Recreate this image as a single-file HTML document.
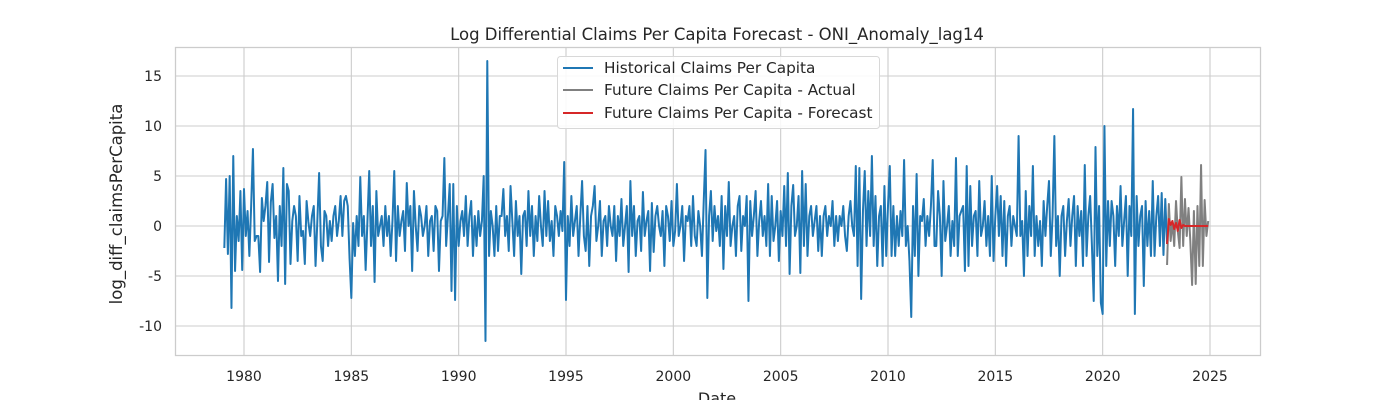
<!DOCTYPE html>
<html><head><meta charset="utf-8"><style>
body{margin:0;background:#fff;width:1400px;height:400px;overflow:hidden;font-family:"DejaVu Sans","Liberation Sans",sans-serif}
svg text{font-family:"DejaVu Sans","Liberation Sans",sans-serif;fill:#262626}
</style></head><body>
<svg id="chart" width="1400" height="400" xmlns="http://www.w3.org/2000/svg">
<text x="717" y="40" font-size="16.5" text-anchor="middle">Log Differential Claims Per Capita Forecast - ONI_Anomaly_lag14</text>
<g id="grid"></g>
<g id="ticks"></g>
<g id="series"></g>
<rect x="175.5" y="47.5" width="1085" height="308" fill="none" stroke="#cccccc" stroke-width="1.25"/>
<text x="717" y="404" font-size="16" text-anchor="middle">Date</text>
<text transform="translate(122,204) rotate(-90)" font-size="16.5" text-anchor="middle">log_diff_claimsPerCapita</text>
<g>
<rect x="557.5" y="56.5" width="322" height="72" rx="3" fill="#fff" fill-opacity="0.85" stroke="#d8d8d8"/>
<line x1="563" y1="68" x2="593" y2="68" stroke="#1f77b4" stroke-width="2"/>
<text x="604" y="73" font-size="15.3">Historical Claims Per Capita</text>
<line x1="563" y1="90" x2="593" y2="90" stroke="#808080" stroke-width="2"/>
<text x="604" y="95" font-size="15.3">Future Claims Per Capita - Actual</text>
<line x1="563" y1="113" x2="593" y2="113" stroke="#d62728" stroke-width="2"/>
<text x="604" y="118" font-size="15.3">Future Claims Per Capita - Forecast</text>
</g>
</svg>
<script>
const xTicks=[1980,1985,1990,1995,2000,2005,2010,2015,2020,2025];
const yTicks=[-10,-5,0,5,10,15];
const histStart=1979.083;
const futureStart=2023.0;
const historical=[
-2.2,4.7,-2.8,5,-8.2,7,-4.5,1,-1.5,3.5,-4.4,3.7,
-1,1.5,-3,2,7.7,-1.5,-1,-1,-4.6,2.8,0.5,2,
4.4,-3.6,2.4,4.2,-1.2,1,-5.5,2,-2,5.8,-5.8,4.2,
3.5,-3.8,0.5,2,1,-3.5,3,-1,-0.5,-3.8,2.5,0.4,
-1,1,2,-4,0.5,5.3,-2,-3.5,1.5,1,-2,0.5,
-1.5,1,2,-1,0.5,3,-1,2.5,3,2,-3.2,-7.2,
0.3,-3,1,-2,4.9,-1,1,-4.4,0.5,5.5,-2,2,
-5.6,3.5,-1,0,1,-2,2,-1,1,-3,0.5,5.5,
-3.5,2,-1,0.5,1.5,-2.5,4.3,0,2,-4.5,3.5,0,
-2.5,2,1,-1,0,2,-3,0.5,1,-2.5,2,1.5,
-4.5,0.5,1,6.8,-2,1,4.2,-6.5,4.2,-7.4,2,-2,
0.5,1.5,-1,3,-2,1,2.5,-3,1,-2,1.5,-1,
0.5,5,-11.5,16.5,-3,1.5,0,-3,2,-2.5,1,1,
3.7,-1,1,-2.5,4,0.5,-3,2.5,-1,1,-4.8,1,
1.5,-2,3.5,-1,2,-3,1,-1.5,3,0,-2,3.5,
-1,2.5,-1.5,0.5,-3,2,1,-1,1.5,-0.5,6.4,-7.4,
1,-2,3,-1,0.5,2,-3,1,4.5,-1,-2.5,2,
-4,1,2,4,-1.5,0,2.5,-3,0.5,1,-2,2,
0,-1,2,-3.5,1,-1,2.7,-2,0,2,-4.6,4.5,
-1,2,-3,0.5,1,-2.5,3.4,-1,0.5,1.5,-4.5,2.3,
-2.6,1,2,0,-1,1.5,-4,2,1,-1.5,2.5,-2,
-0.5,4.2,-1,0,2,-3.5,1,0.5,2,-2,3,-1,
-2,1.5,0,-3,2.5,7.6,-7.2,1,3.5,-1.5,2,-0.5,
1,-2,3,-4.3,2,-1,4.4,-2,0,1,-3,2,
3,-2.5,1,0,3,-7.5,2.5,-1,1,3.5,-3,0.5,
2.5,-1,1,-2,4.2,-3,3,-1.5,0,2.5,-3.5,1.5,
-1,4,-2,5.3,-4.8,2,4.1,-1,0,3,-4.7,5.5,
-2,4.2,-3,1,2,-1,0.5,2,-2.5,1,-3,1,
2,-1,1,0,2.5,-2,1,-1.5,1,0,2,-1,
-2.5,1,2.5,0,-1,6,-4,5.8,-7.3,1.5,5.5,-2,
3.5,-1,7,-2,3,-4,1,2,-4,4,-3,2,
6,-3,2,-3,1,-2,1.5,-1,6.6,-2,0,-3.5,
-9.1,2,-3,5.2,-5,1,0.5,2.7,-2,1,-1,2,
6.6,-2,-2,3.5,1,-5,4.5,-1.5,0,2,-3,0.5,
-2,6.8,-3,1,1.5,2,-4.5,6,-4,4,-2,1,
1.5,-3,4.5,-1,0,2.5,-2,1,-3,5,-3.5,1,
4,-1,3,-3,2.5,-4,1,2,-2,1,0,-1,
9,-1,0.5,-5,3.5,-3,2,-1,6,-3,1,-2,
0.5,-4,2.5,-1,2,4.5,-3,1,9,-2,1,-5,
1,2,-3,0.5,2.7,-2,1,3,-4,2,-1,1.5,
-4,6.1,-3,1,3,-2,-7.5,7.9,-3,2,-7.7,-8.8,
10,-4,2.5,-2,2.5,1,-4,2,-1,4,-2,0.5,
3,-5,2,-1,11.7,-8.8,3,-2,1,2,-6,2.5,
-2,1.5,-3,4.5,-3,1,3,-2,3.3,-2.9,2.7,-1.8
];
const actual=[-3.9,2.2,-1.5,0.5,-2,2.5,-0.5,-2.2,4.9,-2,2.7,-1,1.8,-1.5,-5.9,1.5,-5.8,2,-4,6.1,-4,2.6,-1,0.5];
const forecast=[-1.8,0.7,0.1,0.5,-0.3,0.3,-0.5,0.6,-0.2,0.1,0,0,0,0,0,0,0,0,0,0,0,0,0,0];
const X=t=>244+(t-1980)*(966/45);
const Y=v=>226-v*10;
const NS='http://www.w3.org/2000/svg';
function mk(tag,attrs,parent){const e=document.createElementNS(NS,tag);for(const k in attrs)e.setAttribute(k,attrs[k]);parent.appendChild(e);return e;}
const grid=document.getElementById('grid'),ticks=document.getElementById('ticks'),series=document.getElementById('series');
xTicks.forEach(t=>{const g=mk('line',{x1:X(t),x2:X(t),y1:48,y2:355,stroke:'#cccccc','stroke-width':1.1},grid);


const l=mk('text',{x:X(t),y:381,'font-size':14,'text-anchor':'middle'},ticks);l.textContent=t;

});
yTicks.forEach(v=>{const g=mk('line',{x1:175,x2:1260,y1:Y(v),y2:Y(v),stroke:'#cccccc','stroke-width':1.1},grid);


const l=mk('text',{x:162,y:Y(v)+5,'font-size':14,'text-anchor':'end'},ticks);l.textContent=v;

});
function line(arr,start,color,name){const pts=arr.map((v,i)=>X(start+i/12).toFixed(2)+','+Y(v).toFixed(2)).join(' ');
const p=mk('polyline',{points:pts,fill:'none',stroke:color,'stroke-width':2,'stroke-linejoin':'round'},series);

}
line(historical,histStart,'#1f77b4','historical-line');
line(actual,futureStart,'#808080','actual-line');
line(forecast,futureStart,'#d62728','forecast-line');
</script>
</body></html>
